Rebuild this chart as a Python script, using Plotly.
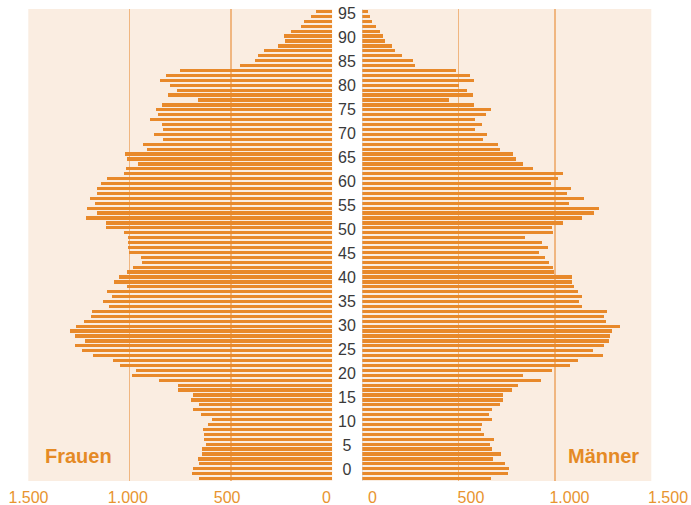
import plotly.graph_objects as go

ages = list(range(0, 96))

frauen = [656, 692, 687, 658, 661, 641, 644, 623, 634, 634,
          636, 612, 593, 648, 687, 658, 697, 687, 763, 763,
          855, 988, 967, 1047, 1080, 1180, 1236, 1269, 1222, 1268,
          1296, 1263, 1226, 1190, 1185, 1100, 1131, 1087, 1110, 1014,
          1077, 1052, 1011, 983, 939, 944, 1005, 1006, 1010, 1010,
          1028, 1118, 1115, 1215, 1161, 1210, 1172, 1195, 1161, 1161,
          1141, 1110, 1028, 1018, 958, 1014, 1021, 916, 932, 837,
          878, 834, 840, 901, 860, 870, 842, 663, 811, 768,
          799, 850, 822, 750, 455, 381, 367, 337, 266, 233,
          238, 204, 154, 141, 105, 80]

maenner = [668, 756, 761, 739, 680, 718, 675, 661, 683, 633,
           616, 619, 673, 659, 673, 715, 730, 730, 777, 808,
           926, 836, 984, 1080, 1118, 1251, 1199, 1253, 1282, 1284,
           1294, 1339, 1263, 1253, 1270, 1138, 1126, 1142, 1118, 1097,
           1087, 1087, 993, 991, 967, 946, 915, 964, 931, 843,
           991, 983, 1040, 1140, 1201, 1227, 1074, 1149, 1062, 1081,
           978, 1014, 1042, 884, 834, 796, 784, 716, 702, 625,
           645, 583, 619, 587, 642, 666, 578, 448, 573, 542,
           500, 580, 561, 486, 273, 265, 206, 171, 154, 116,
           106, 92, 71, 50, 42, 29]

age_ticks = list(range(0, 96, 5))
age_tick_labels = [str(a) for a in age_ticks]
x_ticks = [0, 500, 1000, 1500]
x_tick_labels = ["0", "500", "1.000", "1.500"]
label_left = "Frauen"
label_right = "Männer"

BAR = "#E8892A"
BG = "#FAEDE1"
GRID = "#F0B680"
TICK = "#E8942F"
FONT = "Liberation Sans, Arial, sans-serif"

fig = go.Figure()
fig.add_trace(go.Bar(y=ages, x=frauen, orientation="h", xaxis="x", yaxis="y",
                     marker=dict(color=BAR, line=dict(width=0)), width=0.66,
                     showlegend=False, hoverinfo="skip"))
fig.add_trace(go.Bar(y=ages, x=maenner, orientation="h", xaxis="x2", yaxis="y",
                     marker=dict(color=BAR, line=dict(width=0)), width=0.66,
                     showlegend=False, hoverinfo="skip"))
fig.add_trace(go.Scatter(x=[0.5] * len(age_ticks), y=age_ticks, text=age_tick_labels,
                         mode="text", xaxis="x3", yaxis="y2",
                         textfont=dict(family=FONT, size=16, color="#3a3a3a"),
                         showlegend=False, hoverinfo="skip", cliponaxis=False))
fig.add_trace(go.Scatter(x=[], y=[], xaxis="x4", yaxis="y", showlegend=False, hoverinfo="skip"))
fig.add_trace(go.Scatter(x=[], y=[], xaxis="x5", yaxis="y", showlegend=False, hoverinfo="skip"))

grid_common = dict(showgrid=True, gridcolor=GRID, gridwidth=1.5, showticklabels=False,
                   ticks="", showline=False, tickvals=[500, 1000, 1500], fixedrange=True,
                   automargin=False)
label_common = dict(showgrid=False, zeroline=False, showline=False, tickvals=x_ticks,
                    ticktext=x_tick_labels, ticks="outside", ticklen=2,
                    tickcolor="rgba(0,0,0,0)", anchor="y", automargin=False,
                    tickfont=dict(family=FONT, size=16, color=TICK))

fig.update_layout(
    template="none",
    width=691, height=505,
    margin=dict(l=0, r=0, t=9, b=24, pad=0),
    paper_bgcolor="white", plot_bgcolor="rgba(0,0,0,0)",
    bargap=0,
    xaxis=dict(domain=[0.04095, 0.48090], range=[1500, 0], zeroline=False, anchor="y", **grid_common),
    xaxis2=dict(domain=[0.52431, 0.94255], range=[0, 1500], zeroline=True, zerolinecolor="#DDDDDD",
                zerolinewidth=1, anchor="y", **grid_common),
    xaxis3=dict(domain=[0.4812, 0.5231], range=[0, 1], visible=False, anchor="y2", automargin=False),
    xaxis4=dict(domain=[0.04124, 0.47250], range=[1500, 0], **label_common),
    xaxis5=dict(domain=[0.53893, 0.96671], range=[0, 1500], **label_common),
    yaxis=dict(domain=[0, 1], range=[-0.5, 95.5], visible=False, anchor="x", fixedrange=True,
               automargin=False),
    yaxis2=dict(domain=[0.0161, 0.9924], range=[-0.5, 95.5], visible=False, anchor="x3",
                automargin=False),
    shapes=[
        dict(type="rect", xref="x domain", yref="y domain", x0=0, x1=1, y0=0, y1=1,
             fillcolor=BG, line=dict(width=0), layer="below"),
        dict(type="rect", xref="x2 domain", yref="y domain", x0=0, x1=1, y0=0, y1=1,
             fillcolor=BG, line=dict(width=0), layer="below"),
    ],
    annotations=[
        dict(text="<b>" + label_left + "</b>", xref="paper", yref="paper", x=0.1139, y=0.053,
             xanchor="center", yanchor="middle",
             showarrow=False, font=dict(family=FONT, size=20, color="#E58A25")),
        dict(text="<b>" + label_right + "</b>", xref="paper", yref="paper", x=0.8727, y=0.053,
             xanchor="center", yanchor="middle",
             showarrow=False, font=dict(family=FONT, size=20, color="#E58A25")),
    ],
)

fig.write_html("out.html", config={"displayModeBar": False, "staticPlot": True},
               post_script="document.body.style.margin='0';document.body.style.overflow='hidden';")
